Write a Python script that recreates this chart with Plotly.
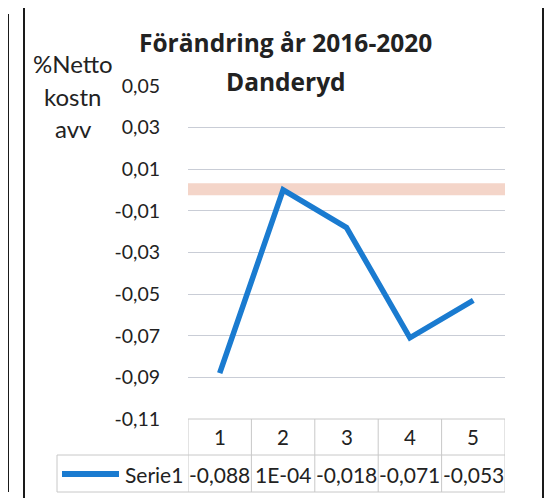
import plotly.graph_objects as go

# ---- data ----
categories = [1, 2, 3, 4, 5]
values = [-0.088, 0.0001, -0.018, -0.071, -0.053]
value_labels = ["-0,088", "1E-04", "-0,018", "-0,071", "-0,053"]
series_name = "Serie1"
ytick_vals = [0.05, 0.03, 0.01, -0.01, -0.03, -0.05, -0.07, -0.09, -0.11]
ytick_text = ["0,05", "0,03", "0,01", "-0,01", "-0,03", "-0,05", "-0,07", "-0,09", "-0,11"]
band_low, band_high = -0.0025, 0.0033
title_line1 = "Förändring år 2016-2020"
title_line2 = "Danderyd"
ytitle_lines = ["%Netto", "kostn", "avv"]

# ---- layout geometry (pixels, in window coordinates) ----
OFF = 8  # page body margin
W, H = 553 - OFF, 498 - OFF
L, R, T, B = 188, 505, 86, 419
FONT = "Lato"
TFONT = "Open Sans"
TXT = "#222222"
BLUE = "#1a7bd0"
GRID = "#c9cdd6"
TBL = "#c8c8c8"


def px(x):
    return (x - L) / (R - L)


def py(y):
    return (B - y) / (B - T)


fig = go.Figure()
fig.add_trace(go.Scatter(
    x=categories, y=values, mode="lines", name=series_name,
    line=dict(color=BLUE, width=5.5), showlegend=False, hoverinfo="x+y"))

shapes = []
shapes.append(dict(type="rect", xref="paper", yref="y", x0=0, x1=1,
                   y0=band_low, y1=band_high, fillcolor="rgba(240,195,178,0.7)",
                   line=dict(width=0), layer="below"))

row_top, row_mid, row_bot = py(419), py(455), py(492)
leg_left = px(57)
for i in range(len(categories) + 1):
    xb = categories[0] - 0.5 + i
    shapes.append(dict(type="line", xref="x", yref="paper", x0=xb, x1=xb,
                       y0=row_bot, y1=row_top, line=dict(color=TBL, width=1)))
shapes.append(dict(type="line", xref="paper", yref="paper", x0=0, x1=1,
                   y0=row_top, y1=row_top, line=dict(color=TBL, width=1)))
shapes.append(dict(type="line", xref="paper", yref="paper", x0=leg_left, x1=1,
                   y0=row_mid, y1=row_mid, line=dict(color=TBL, width=1)))
shapes.append(dict(type="line", xref="paper", yref="paper", x0=leg_left, x1=1,
                   y0=row_bot, y1=row_bot, line=dict(color=TBL, width=1)))
shapes.append(dict(type="line", xref="paper", yref="paper", x0=leg_left, x1=leg_left,
                   y0=row_bot, y1=row_mid, line=dict(color=TBL, width=1)))
shapes.append(dict(type="line", xref="paper", yref="paper", x0=px(62), x1=px(119),
                   y0=py(474), y1=py(474), line=dict(color=BLUE, width=6)))

shapes.append(dict(type="rect", xref="paper", yref="paper", x0=px(24), x1=px(543),
                   y0=py(510), y1=py(3), line=dict(color="#1a1a1a", width=2)))
shapes.append(dict(type="rect", xref="paper", yref="paper", x0=px(-20), x1=px(8),
                   y0=py(491), y1=py(15), line=dict(color="#1a1a1a", width=2)))
for yy in [108, 134, 159, 185, 210, 236, 262, 287, 313, 338]:
    shapes.append(dict(type="line", xref="paper", yref="paper", x0=px(0), x1=px(4),
                       y0=py(yy), y1=py(yy), line=dict(color="#cfd3da", width=1)))

ann = []


def text(x, y, t, size, family=FONT, xanchor="center", xref="paper"):
    ann.append(dict(x=x, y=y, xref=xref, yref="paper", text=t, showarrow=False,
                    xanchor=xanchor, yanchor="middle",
                    font=dict(size=size, color=TXT, family=family)))


for c in categories:
    text(c, py(437), str(c), 20.5, xref="x")
for c, lab in zip(categories, value_labels):
    text(c, py(474), lab, 21, xref="x")
text(px(185), py(474), series_name, 21, xanchor="right")
text(px(285), py(43), "<b>" + title_line1 + "</b>", 24.5, family=TFONT)
text(px(286), py(81), "<b>" + title_line2 + "</b>", 24.5, family=TFONT)
for k, t in enumerate(ytitle_lines):
    text(px(73), py(64 + 32 * k), t, 24)

fig.update_layout(
    width=W, height=H, autosize=False,
    margin=dict(l=L - OFF, r=W - (R - OFF), t=T - OFF, b=H - (B - OFF), pad=0),
    paper_bgcolor="white", plot_bgcolor="white",
    font=dict(family=FONT, color=TXT),
    shapes=shapes, annotations=ann, showlegend=False,
    xaxis=dict(range=[0.5, 5.5], showgrid=False, showticklabels=False,
               zeroline=False, showline=False, ticks=""),
    yaxis=dict(range=[-0.11, 0.05], tickvals=ytick_vals, ticktext=ytick_text,
               showgrid=True, gridcolor=GRID, gridwidth=1, zeroline=False,
               showline=False, ticks="outside", ticklen=23,
               tickcolor="rgba(0,0,0,0)", tickfont=dict(size=19.5, color=TXT, family=FONT)),
)

fig.write_html("out.html")
